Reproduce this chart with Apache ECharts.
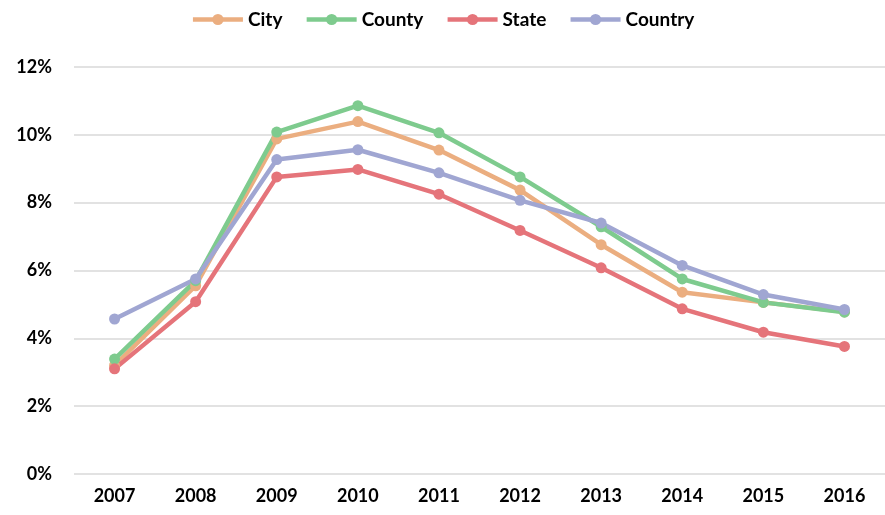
<!doctype html>
<html>
<head>
    <meta charset="utf-8" />
    <script src="https://cdn.jsdelivr.net/npm/echarts@6/dist/echarts.min.js"></script>
    <style>
        html, body { margin: 0; padding: 0; background: #fff; }
        #chart { width: 885px; height: 515px; }
    </style>
</head>
<body>
<div id="chart"></div>
<script>
// values, in percent
var years = ['2007', '2008', '2009', '2010', '2011', '2012', '2013', '2014', '2015', '2016'];
var city = [3.2, 5.55, 9.88, 10.39, 9.55, 8.37, 6.76, 5.36, 5.06, 4.78];
var county = [3.39, 5.7, 10.08, 10.86, 10.06, 8.76, 7.29, 5.75, 5.06, 4.77];
var state = [3.1, 5.08, 8.76, 8.98, 8.25, 7.18, 6.08, 4.87, 4.18, 3.76];
var country = [4.57, 5.75, 9.27, 9.56, 8.88, 8.07, 7.4, 6.15, 5.29, 4.85];

var FONT = 'Lato';

function line(name, data, color) {
    return {
        name: name,
        type: 'line',
        data: data,
        symbol: 'circle',
        symbolSize: 11,
        itemStyle: { color: color },
        lineStyle: { width: 4.5, color: color },
        emphasis: { disabled: true }
    };
}

var myChart = echarts.init(document.getElementById('chart'));
myChart.setOption({
    animation: false,
    legend: {
        top: 5,
        left: 'center',
        itemWidth: 50,
        itemHeight: 14,
        itemGap: 22,
        lineStyle: { width: 4.5 },
        textStyle: { fontFamily: FONT, fontWeight: 'bold', fontSize: 19, color: '#000' },
        data: ['City', 'County', 'State', 'Country']
    },
    grid: { left: 74, right: 0, top: 67, bottom: 41, containLabel: false },
    xAxis: {
        type: 'category',
        data: years,
        axisLine: { show: false },
        axisTick: { show: false },
        axisLabel: { fontFamily: FONT, fontWeight: 'bold', fontSize: 18, color: '#000', margin: 13 }
    },
    yAxis: {
        type: 'value',
        min: 0,
        max: 12,
        interval: 2,
        axisLabel: {
            fontFamily: FONT, fontWeight: 'bold', fontSize: 18, color: '#000', margin: 22,
            formatter: '{value}%'
        },
        splitLine: { lineStyle: { color: '#d9d9d9', width: 1.5 } }
    },
    series: [
        line('City', city, '#EBAE80'),
        line('County', county, '#7ECB8E'),
        line('State', state, '#E5747A'),
        line('Country', country, '#A0A6D2')
    ]
});
</script>
</body>
</html>
